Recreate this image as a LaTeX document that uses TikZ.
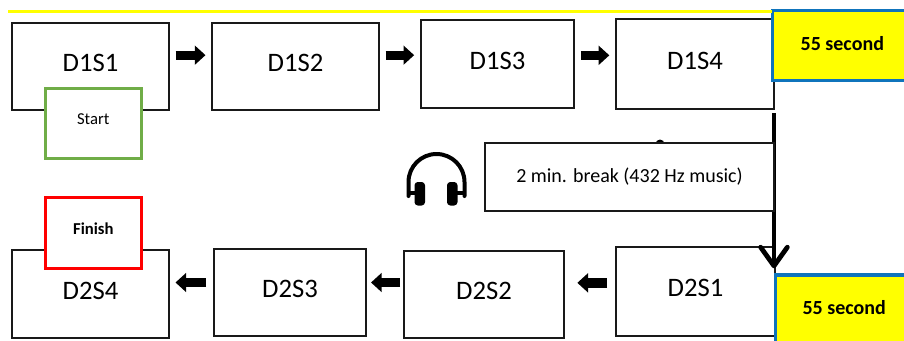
\documentclass[tikz,border=0pt]{standalone}
\usepackage{fontspec}
\setmainfont{Carlito}
\usetikzlibrary{arrows.meta}
\definecolor{timeblue}{HTML}{0F74BC}
\definecolor{startgreen}{HTML}{70AD47}
\definecolor{timeyellow}{RGB}{255,255,0}
\definecolor{finishred}{RGB}{255,0,0}
\tikzset{
  stagebox/.style={draw=black!90,line width=1.1pt,fill=white,inner sep=0pt,outer sep=0pt,
    font=\fontsize{20}{24}\selectfont,text depth=5.2pt},
  markbox/.style={draw=#1,line width=2.4pt,fill=white,inner sep=0pt,outer sep=0pt,
    minimum width=72pt,minimum height=52.8pt,font=\fontsize{12.5}{15}\selectfont,text depth=7pt},
  timebox/.style={draw=timeblue,line width=2.4pt,fill=timeyellow,inner sep=0pt,outer sep=0pt,
    font=\fontsize{15}{18}\selectfont\bfseries},
  flow/.style={line width=7pt,-{Triangle[length=8pt,width=14pt]},shorten <=5pt,shorten >=5pt},
}
\begin{document}
\begin{tikzpicture}[x=0.75pt,y=-0.75pt]
  \useasboundingbox (0,0) rectangle (904,340);
  \clip (0,0) rectangle (904,340);
  % first row
  \node[stagebox,minimum width=117.5pt,minimum height=65.5pt] (D1S1) at (90.5,66.5) {D1S1};
  \node[stagebox,minimum width=125pt,minimum height=65.5pt] (D1S2) at (295.5,66.5) {D1S2};
  \node[stagebox,minimum width=115pt,minimum height=66pt] (D1S3) at (497.5,64) {D1S3};
  \node[stagebox,minimum width=118.5pt,minimum height=67.5pt] (D1S4) at (695,64) {D1S4};
  % second row
  \node[stagebox,minimum width=119pt,minimum height=67pt] (D2S1) at (695.5,291.5) {D2S1};
  \node[stagebox,minimum width=120pt,minimum height=65pt] (D2S2) at (484,294.5) {D2S2};
  \node[stagebox,minimum width=114pt,minimum height=65pt] (D2S3) at (290,292.5) {D2S3};
  \node[stagebox,minimum width=117.5pt,minimum height=66pt] (D2S4) at (90.5,294) {D2S4};
  % start and finish
  \node[markbox=startgreen] (start) at (93.3,123.5) {Start};
  \node[markbox=finishred,font=\fontsize{12.5}{15}\selectfont\bfseries] (finish) at (93.3,233) {Finish};
  % timers
  \coordinate (topline) at (8,11.5);
  \node[timebox,minimum width=105pt,minimum height=52.5pt,text depth=3.8pt] (timeA) at (842.3,45.8) {55 second};
  \node[timebox,minimum width=103.5pt,minimum height=56.3pt,text depth=7.5pt] (timeB) at (844.2,312.5) {55 second};
  \draw[timeyellow,line width=2.6pt] (topline) -- (topline -| timeA.west);
  % row arrows
  \draw[flow] ([yshift=8.5pt]D1S1.east) -- ([yshift=8.5pt]D1S2.west);
  \draw[flow] ([yshift=8.5pt]D1S2.east) -- ([yshift=8.5pt]D1S2.east -| D1S3.west);
  \draw[flow] ([yshift=6.5pt]D1S3.east) -- ([yshift=6.5pt]D1S3.east -| D1S4.west);
  \draw[flow,shorten <=6.75pt,shorten >=10pt] ([yshift=6.5pt]D2S1.west) -- ([yshift=6.5pt]D2S1.west -| D2S2.east);
  \draw[flow,shorten <=3pt,shorten >=3.75pt] ([yshift=9pt]D2S2.west) -- ([yshift=9pt]D2S2.west -| D2S3.east);
  \draw[flow,shorten <=6pt] ([yshift=7.5pt]D2S3.west) -- ([yshift=7.5pt]D2S3.west -| D2S4.east);
  % break
  \fill (660,144) circle (4.5);
  \draw[-{Straight Barb[length=14pt,width=20pt,line width=3.6pt,round]},line width=3pt,shorten <=3pt,shorten >=5pt]
    (D1S4.south east) -- (D1S4.south east |- timeB.north);
  \node[draw=black!90,line width=1.1pt,fill=white,inner sep=0pt,outer sep=0pt,minimum width=217pt,minimum height=51pt,
    font=\fontsize{15}{18}\selectfont,text depth=3pt] (pause) at (629.5,177) {2 min. break (432 Hz music)};
  % headphones
  \draw[line width=3pt,line cap=round] (408.5,196) -- (408.5,182) arc[start angle=180,end angle=360,radius=28] -- (464.5,196);
  \draw[line width=3pt] (408.5,193) -- (420,193) (454,193) -- (464.5,193);
  \fill[rounded corners=2.5pt] (414.5,182) rectangle (425,205.5);
  \fill[rounded corners=2.5pt] (447,182) rectangle (457.5,205.5);
\end{tikzpicture}
\end{document}
